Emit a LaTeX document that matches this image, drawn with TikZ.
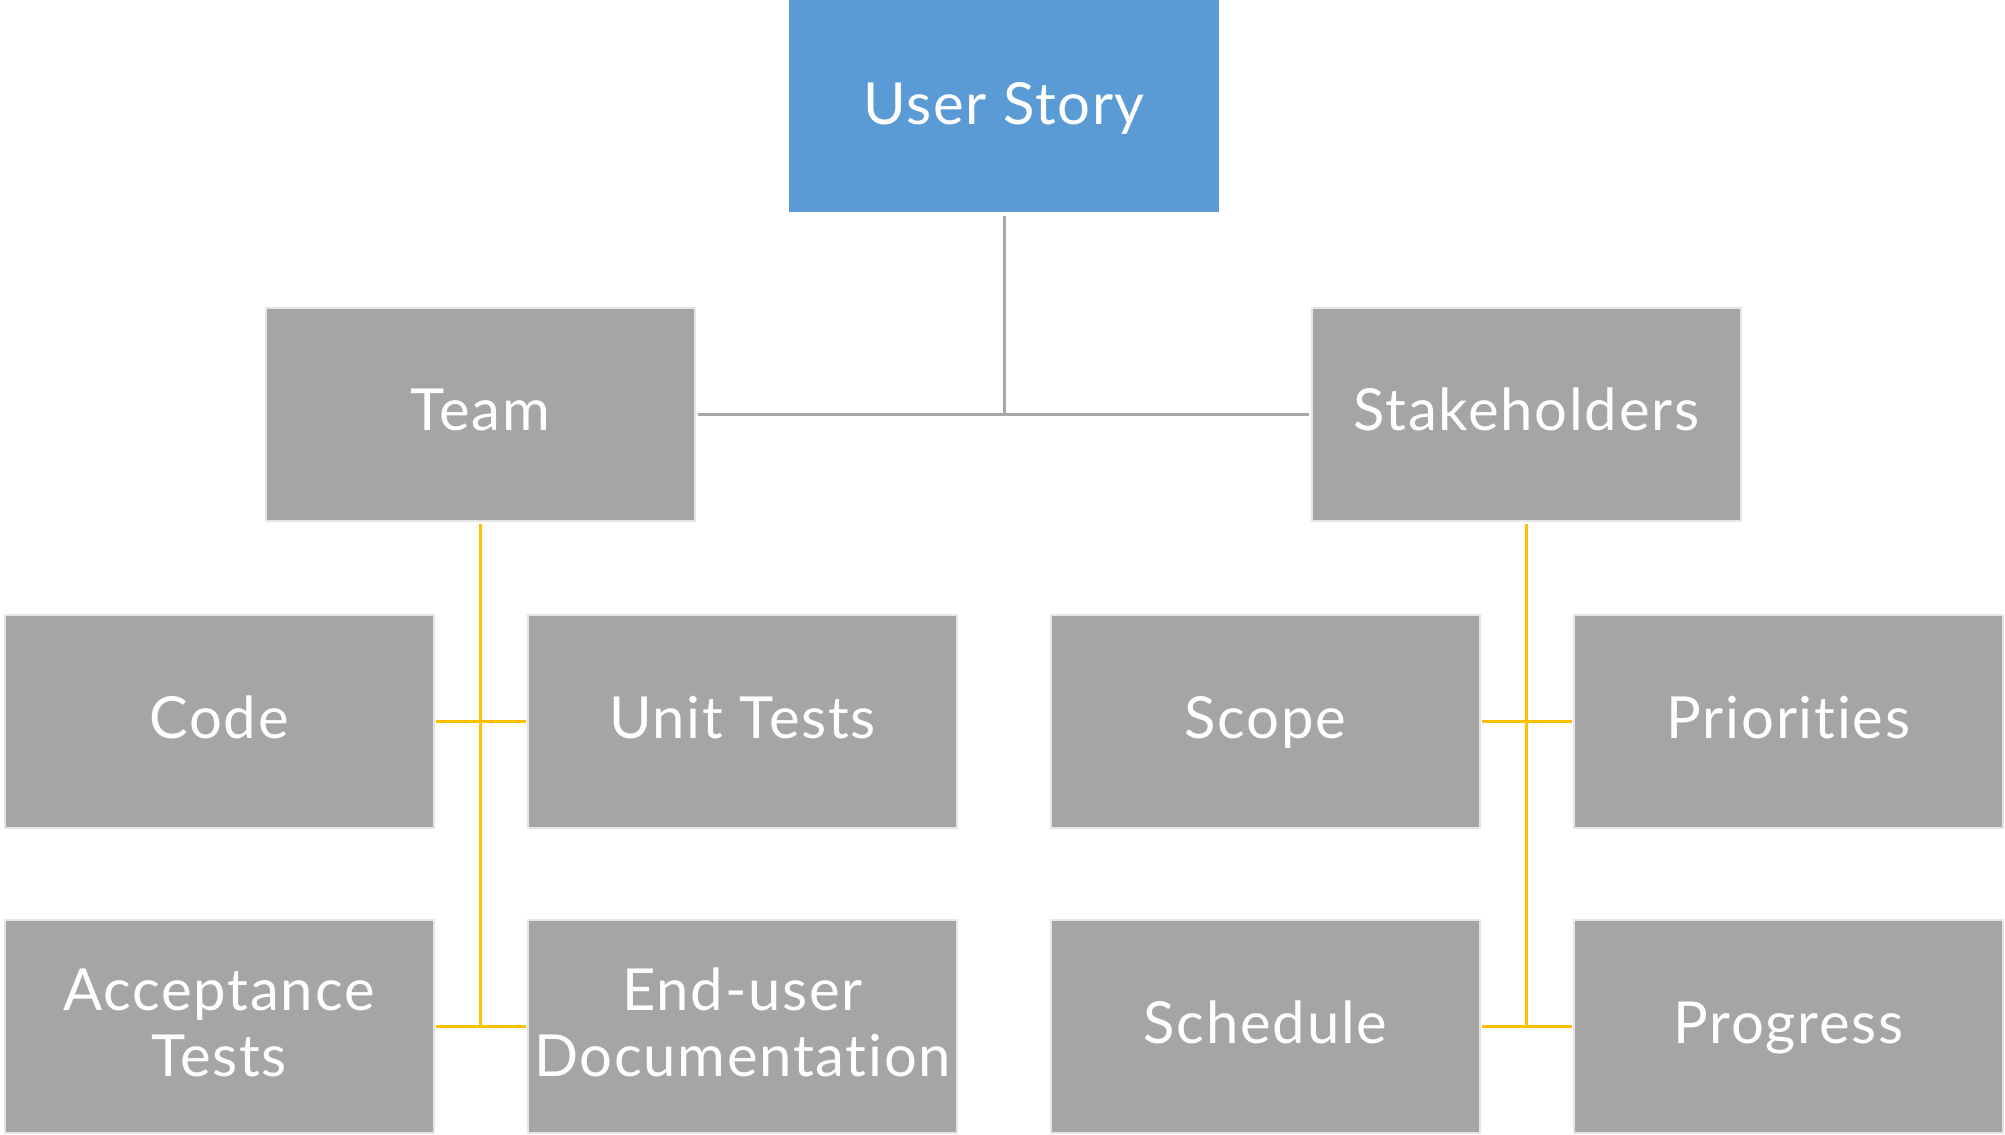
\documentclass[tikz,border=0pt]{standalone}
\usepackage{fontspec}
\setmainfont{Lato}[Ligatures={NoCommon}, LetterSpace=3]
\definecolor{boxgrey}{HTML}{A5A5A5}
\definecolor{boxedge}{HTML}{E6E6E6}
\definecolor{topblue}{HTML}{5B9BD5}
\definecolor{lineyellow}{HTML}{FFC000}
\definecolor{linegrey}{HTML}{A8A8A8}
\begin{document}
\begin{tikzpicture}[x=1pt,y=-1pt,
  box/.style={rectangle, fill=boxgrey, draw=boxedge, line width=2pt,
    minimum width=429pt, minimum height=213pt, inner sep=0pt,
    text=white, font=\fontsize{58}{64}\selectfont, align=center,
    text height=44pt, text depth=11pt},
  twoline/.style={font=\fontsize{58}{66}\selectfont, text height=110pt, text depth=11pt},
  topbox/.style={rectangle, fill=topblue, draw=none,
    minimum width=430pt, minimum height=212pt, inner sep=0pt,
    text=white, font=\fontsize{58}{64}\selectfont, align=center,
    text height=44pt, text depth=8pt},
  greylink/.style={draw=linegrey, line width=3pt},
  yellowlink/.style={draw=lineyellow, line width=3pt}]
\useasboundingbox (0,0) rectangle (2005,1135);
\node[topbox] (us) at (1004,106) {User Story};
\node[box] (team) at (480.5,414) {Team};
\node[box] (stake) at (1526.5,414) {Stakeholders};
\node[box] (code) at (219,721.5) {Code};
\node[box] (unit) at (742.5,721.5) {Unit Tests};
\node[box] (scope) at (1265.5,721.5) {Scope};
\node[box] (prio) at (1788.5,721.5) {Priorities};
\node[box, twoline] (acc) at (219,1026.5) {Acceptance\\Tests};
\node[box, twoline] (doc) at (742.5,1026.5) {End-user\\Documentation};
\node[box] (sched) at (1265.5,1026.5) {Schedule};
\node[box] (prog) at (1788.5,1026.5) {Progress};
% grey connectors
\draw[greylink, shorten <=4pt] (us.south) -- (us.south |- team.east);
\draw[greylink, shorten <=2pt, shorten >=2pt] (team.east) -- (stake.west);
% yellow connectors
\draw[yellowlink, shorten <=2pt] (team.south) -- (team.south |- acc.east);
\draw[yellowlink, shorten <=1pt, shorten >=1pt] (code.east) -- (unit.west);
\draw[yellowlink, shorten <=1pt, shorten >=1pt] (acc.east) -- (doc.west);
\draw[yellowlink, shorten <=2pt] (stake.south) -- (stake.south |- sched.east);
\draw[yellowlink, shorten <=1pt, shorten >=1pt] (scope.east) -- (prio.west);
\draw[yellowlink, shorten <=1pt, shorten >=1pt] (sched.east) -- (prog.west);
\end{tikzpicture}
\end{document}
